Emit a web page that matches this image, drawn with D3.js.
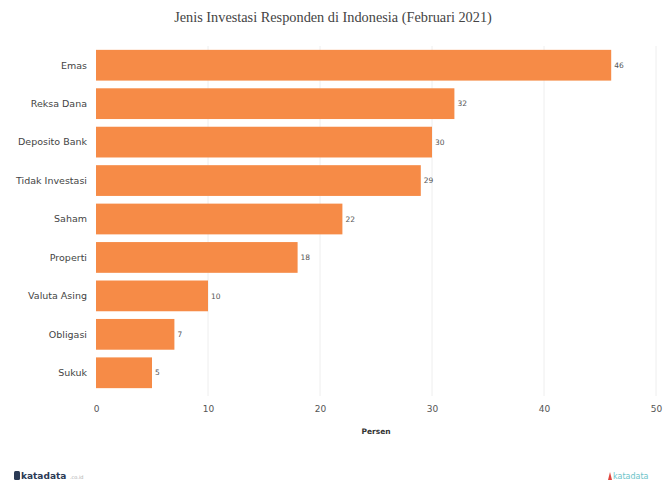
<!DOCTYPE html>
<html><head><meta charset="utf-8">
<script src="https://cdn.jsdelivr.net/npm/d3@7"></script>
<style>body{margin:0;background:#fff;}svg{display:block;}</style>
</head><body>
<script>
const categories = ["Emas","Reksa Dana","Deposito Bank","Tidak Investasi","Saham","Properti","Valuta Asing","Obligasi","Sukuk"];
const values = [46,32,30,29,22,18,10,7,5];
const xTicks = [0,10,20,30,40,50];
const title = "Jenis Investasi Responden di Indonesia (Februari 2021)";
const xLabel = "Persen";

const W = 665, H = 484;
const svg = d3.select("body").append("svg").attr("width", W).attr("height", H);

const x = d3.scaleLinear().domain([0,50]).range([96,656]);
const y = d3.scaleBand().domain(categories).range([46,392]).paddingInner(0.2).paddingOuter(0.1);

svg.append("text").attr("x", 333).attr("y", 22).attr("text-anchor","middle")
  .attr("font-family","Liberation Serif, serif").attr("font-size", 14.3).attr("fill","#444").text(title);

// gridlines
svg.append("g").selectAll("line").data(xTicks.slice(1)).join("line")
  .attr("x1", d=>x(d)).attr("x2", d=>x(d)).attr("y1", 46).attr("y2", 396)
  .attr("stroke","#eeeeee").attr("stroke-width",1);

// bars
svg.append("g").selectAll("rect").data(values).join("rect")
  .attr("x", x(0)).attr("y", (d,i)=>y(categories[i]))
  .attr("width", d=>x(d)-x(0)).attr("height", y.bandwidth())
  .attr("fill","#f68b47");

// value labels
svg.append("g").selectAll("text").data(values).join("text")
  .attr("x", d=>x(d)+3).attr("y", (d,i)=>y(categories[i])+y.bandwidth()/2)
  .attr("dy","0.35em").attr("font-family","DejaVu Sans, sans-serif").attr("font-size",7.5)
  .attr("fill","#555").text(d=>d);

// category labels
svg.append("g").selectAll("text").data(categories).join("text")
  .attr("x", 87).attr("y", d=>y(d)+y.bandwidth()/2).attr("dy","0.35em")
  .attr("text-anchor","end").attr("font-family","DejaVu Sans, sans-serif").attr("font-size",9.5)
  .attr("fill","#444").text(d=>d);

// x axis tick labels
const ax = svg.append("g").attr("transform","translate(0,404)")
  .call(d3.axisBottom(x).tickValues(xTicks).tickSize(0).tickPadding(2));
ax.select(".domain").remove();
ax.selectAll("text").attr("font-family","DejaVu Sans, sans-serif").attr("font-size",9).attr("fill","#555");

svg.append("text").attr("x", x(25)).attr("y", 434).attr("text-anchor","middle")
  .attr("font-family","DejaVu Sans, sans-serif").attr("font-size",7.5).attr("font-weight","bold")
  .attr("fill","#333").text(xLabel);

// footer logos
const lg = svg.append("g");
lg.append("rect").attr("x",14).attr("y",471).attr("width",6).attr("height",9).attr("rx",1.5).attr("fill","#2b3a55");
lg.append("text").attr("x",21).attr("y",479).attr("font-family","DejaVu Sans, sans-serif").attr("font-size",9)
  .attr("font-weight","bold").attr("fill","#2b3a55").text("katadata");
lg.append("text").attr("x",70).attr("y",479).attr("font-family","DejaVu Sans, sans-serif").attr("font-size",5)
  .attr("fill","#aaa").text(".co.id");
lg.append("path").attr("d","M608,480 L610,472 L612,480 Z").attr("fill","#e0463e");
lg.append("text").attr("x",613).attr("y",479).attr("font-family","DejaVu Sans, sans-serif").attr("font-size",8)
  .attr("fill","#6cc4c9").text("katadata");
</script>
</body></html>
